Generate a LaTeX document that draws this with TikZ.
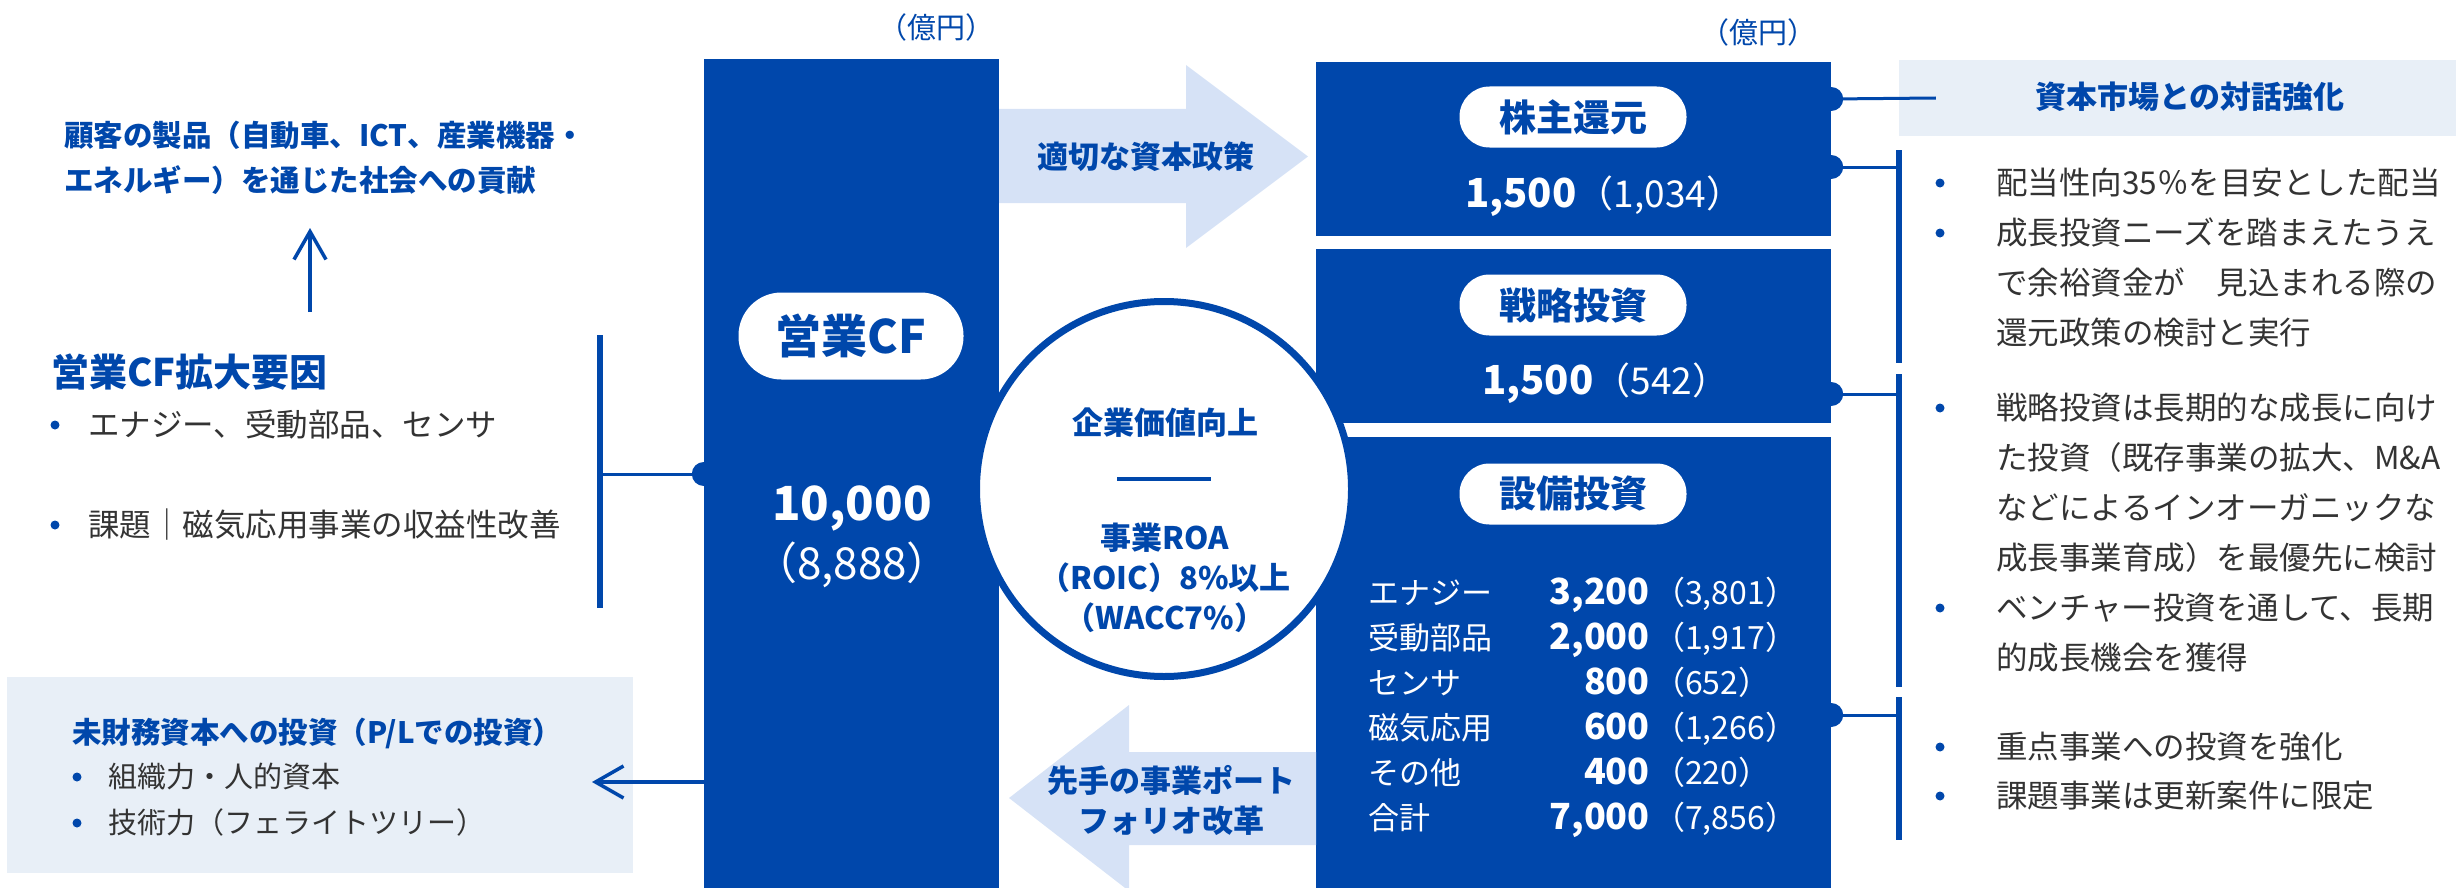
\documentclass[tikz,border=0pt]{standalone}
\usepackage{fontspec}
\setmainfont{Noto Sans CJK JP}
\usetikzlibrary{arrows.meta}
\definecolor{corpblue}{RGB}{0,71,171}
\definecolor{paleblue}{RGB}{232,239,247}
\definecolor{arrowblue}{RGB}{214,226,246}
\definecolor{bodygray}{RGB}{51,51,51}

\begin{document}
\begin{tikzpicture}[x=1pt,y=-1pt,
    colbox/.style={fill=corpblue, inner sep=0},
    pill/.style={fill=white, rounded corners=30pt, inner sep=0, text=corpblue,
        font=\bfseries\fontsize{37}{37}\selectfont},
    bluehead/.style={text=corpblue, inner sep=0, font=\bfseries\fontsize{31}{40}\selectfont},
    body/.style={text=bodygray, inner sep=0, anchor=base west, font=\fontsize{31.5}{50}\selectfont},
    thinline/.style={corpblue, line width=3pt},
    thickline/.style={corpblue, line width=6pt},
    openarrow/.style={corpblue, line width=3.5pt, -{Straight Barb[length=28pt,width=32pt]}}
  ]
    \useasboundingbox (0,0) rectangle (2456,888);

    % columns
    \node[colbox, minimum width=295, minimum height=829] (cf) at (851.5,473.5) {};
    \node[colbox, minimum width=515, minimum height=174] (ret) at (1573.5,149) {};
    \node[colbox, minimum width=515, minimum height=174] (strat) at (1573.5,336) {};
    \node[colbox, minimum width=515, minimum height=451] (capex) at (1573.5,662.5) {};

    \node[text=corpblue, inner sep=0, font=\fontsize{29}{29}\selectfont] (unitL) at (936,27) {（億円）};
    \node[text=corpblue, inner sep=0, font=\fontsize{29}{29}\selectfont] (unitR) at (1758,32) {（億円）};

    % flow arrows
    \fill[arrowblue] (999,109) -- (1186,109) -- (1186,65) -- (1308,156.5) -- (1186,248) -- (1186,203) -- (999,203) -- cycle;
    \node[bluehead] (policy) at (1146,157) {適切な資本政策};
    \fill[arrowblue] (1316,752) -- (1129,752) -- (1129,705) -- (1009,798) -- (1129,891) -- (1129,845) -- (1316,845) -- cycle;
    \node[bluehead, align=center] (reform) at (1171,800) {先手の事業ポート\\フォリオ改革};

    % operating CF
    \node[pill, minimum width=225, minimum height=87, rounded corners=43pt,
        font=\bfseries\fontsize{46}{46}\selectfont] (cflabel) at (851,336) {営業CF};
    \node[text=white, inner sep=0, font=\bfseries\fontsize{47}{47}\selectfont] (cfval) at (852,508) {10,000};
    \node[text=white, inner sep=0, font=\fontsize{44}{44}\selectfont] (cfprev) at (852,565) {（8,888）};

    % returns, strategic, capex
    \node[pill, minimum width=227, minimum height=61] (retlabel) at (1573,117) {株主還元};
    \node[text=white, inner sep=0, anchor=base west] (retval) at (1465,207)
        {{\bfseries\fontsize{40}{40}\selectfont 1,500}{\fontsize{37}{37}\selectfont （1,034）}};
    \node[pill, minimum width=227, minimum height=61] (stratlabel) at (1573,305) {戦略投資};
    \node[text=white, inner sep=0, anchor=base west] (stratval) at (1482,394)
        {{\bfseries\fontsize{40}{40}\selectfont 1,500}{\fontsize{37}{37}\selectfont （542）}};
    \node[pill, minimum width=227, minimum height=61] (capexlabel) at (1573,494) {設備投資};

    \foreach \lab/\val/\prev [count=\i] in {エナジー/{3,200}/{3,801}, 受動部品/{2,000}/{1,917},
        センサ/800/652, 磁気応用/600/{1,266}, その他/400/220, 合計/{7,000}/{7,856}} {
      \node[text=white, inner sep=0, anchor=base west, font=\fontsize{31}{31}\selectfont]
          (lab\i) at (1368,{559+45*\i}) {\lab};
      \node[text=white, inner sep=0, anchor=base east, font=\bfseries\fontsize{36}{36}\selectfont]
          (val\i) at (1650,{559+45*\i}) {\val};
      \node[text=white, inner sep=0, anchor=base west, font=\fontsize{32}{32}\selectfont]
          (prev\i) at (1653,{559+45*\i}) {（\prev）};
    }

    % corporate value circle
    \node[circle, draw=corpblue, line width=7pt, fill=white, minimum size=375, inner sep=0] (value) at (1164,489) {};
    \node[bluehead] (vtitle) at (1165,423) {企業価値向上};
    \draw[corpblue, line width=4pt] (1117,479) -- (1211,479);
    \node[bluehead, align=center] (roa) at (1165,578) {事業ROA\\（ROIC）8\%以上\\（WACC7\%）};

    % left side
    \node[bluehead, anchor=west, align=left, font=\bfseries\fontsize{29.5}{45}\selectfont] (contrib) at (64,157.5)
        {顧客の製品（自動車、ICT、産業機器・\\エネルギー）を通じた社会への貢献};
    \coordinate (upbase) at (310,312);
    \coordinate (uptip) at (310,228);
    \draw[openarrow] (upbase) -- (uptip);

    \node[bluehead, anchor=west, font=\bfseries\fontsize{38}{38}\selectfont] (drivers) at (51,372) {営業CF拡大要因};
    \fill[corpblue] (55,425) circle (4.5pt);
    \node[body] (drv1) at (88,436) {エナジー、受動部品、センサ};
    \fill[corpblue] (55,525) circle (4.5pt);
    \node[body] (drv2) at (88,536) {課題｜磁気応用事業の収益性改善};

    \coordinate (lbtop) at (600,335);
    \coordinate (lbbot) at (600,608);
    \coordinate (lbmid) at (600,474);
    \coordinate (cfdot) at (cf.west |- 0,474);
    \draw[thickline] (lbtop) -- (lbbot);
    \draw[thinline] (lbmid) -- (cfdot);
    \fill[corpblue] (cfdot) circle (12pt);

    \node[fill=paleblue, minimum width=626, minimum height=196, inner sep=0] (nonfin) at (320,775) {};
    \node[bluehead, anchor=west, font=\bfseries\fontsize{29.5}{29.5}\selectfont] (nftitle) at (72,733) {未財務資本への投資（P/Lでの投資）};
    \fill[corpblue] (77,777) circle (4.5pt);
    \node[body, font=\fontsize{29}{29}\selectfont] (nf1) at (108,787.5) {組織力・人的資本};
    \fill[corpblue] (77,823) circle (4.5pt);
    \node[body, font=\fontsize{29}{29}\selectfont] (nf2) at (108,833.5) {技術力（フェライトツリー）};
    \coordinate (nftip) at (592,782);
    \draw[openarrow] (cf.west |- 0,782) -- (nftip);

    % right side
    \node[fill=paleblue, minimum width=557, minimum height=76, inner sep=0] (market) at (2177.5,98) {};
    \node[bluehead] (mkttext) at (2190,97) {資本市場との対話強化};

    \coordinate (d1) at (ret.east |- 0,99);
    \coordinate (d2) at (ret.east |- 0,167);
    \coordinate (d3) at (strat.east |- 0,394);
    \coordinate (d4) at (capex.east |- 0,715);
    \foreach \d in {d1,d2,d3,d4} \fill[corpblue] (\d) circle (12pt);

    \draw[thinline] (d1) -- ([xshift=37pt]market.west);
    \draw[thickline] (1899,150) -- (1899,363);
    \draw[thinline] (d2) -- (1899,167);
    \draw[thickline] (1899,374) -- (1899,687);
    \draw[thinline] (d3) -- (1899,394);
    \draw[thickline] (1899,697) -- (1899,840);
    \draw[thinline] (d4) -- (1899,715);

    \foreach \y in {183,233,408,608,747,796} \fill[corpblue] (1940,\y) circle (4.5pt);
    \foreach \txt [count=\i] in {配当性向35％を目安とした配当, 成長投資ニーズを踏まえたうえ,
        で余裕資金が　見込まれる際の, 還元政策の検討と実行}
      \node[body] (rettxt\i) at (1996,{144+50*\i}) {\txt};
    \foreach \txt [count=\i] in {戦略投資は長期的な成長に向け, た投資（既存事業の拡大、M\&A,
        などによるインオーガニックな, 成長事業育成）を最優先に検討, ベンチャー投資を通して、長期,
        的成長機会を獲得}
      \node[body] (strattxt\i) at (1996,{369+50*\i}) {\txt};
    \node[body] (capextxt1) at (1996,758) {重点事業への投資を強化};
    \node[body] (capextxt2) at (1996,807) {課題事業は更新案件に限定};
\end{tikzpicture}
\end{document}
